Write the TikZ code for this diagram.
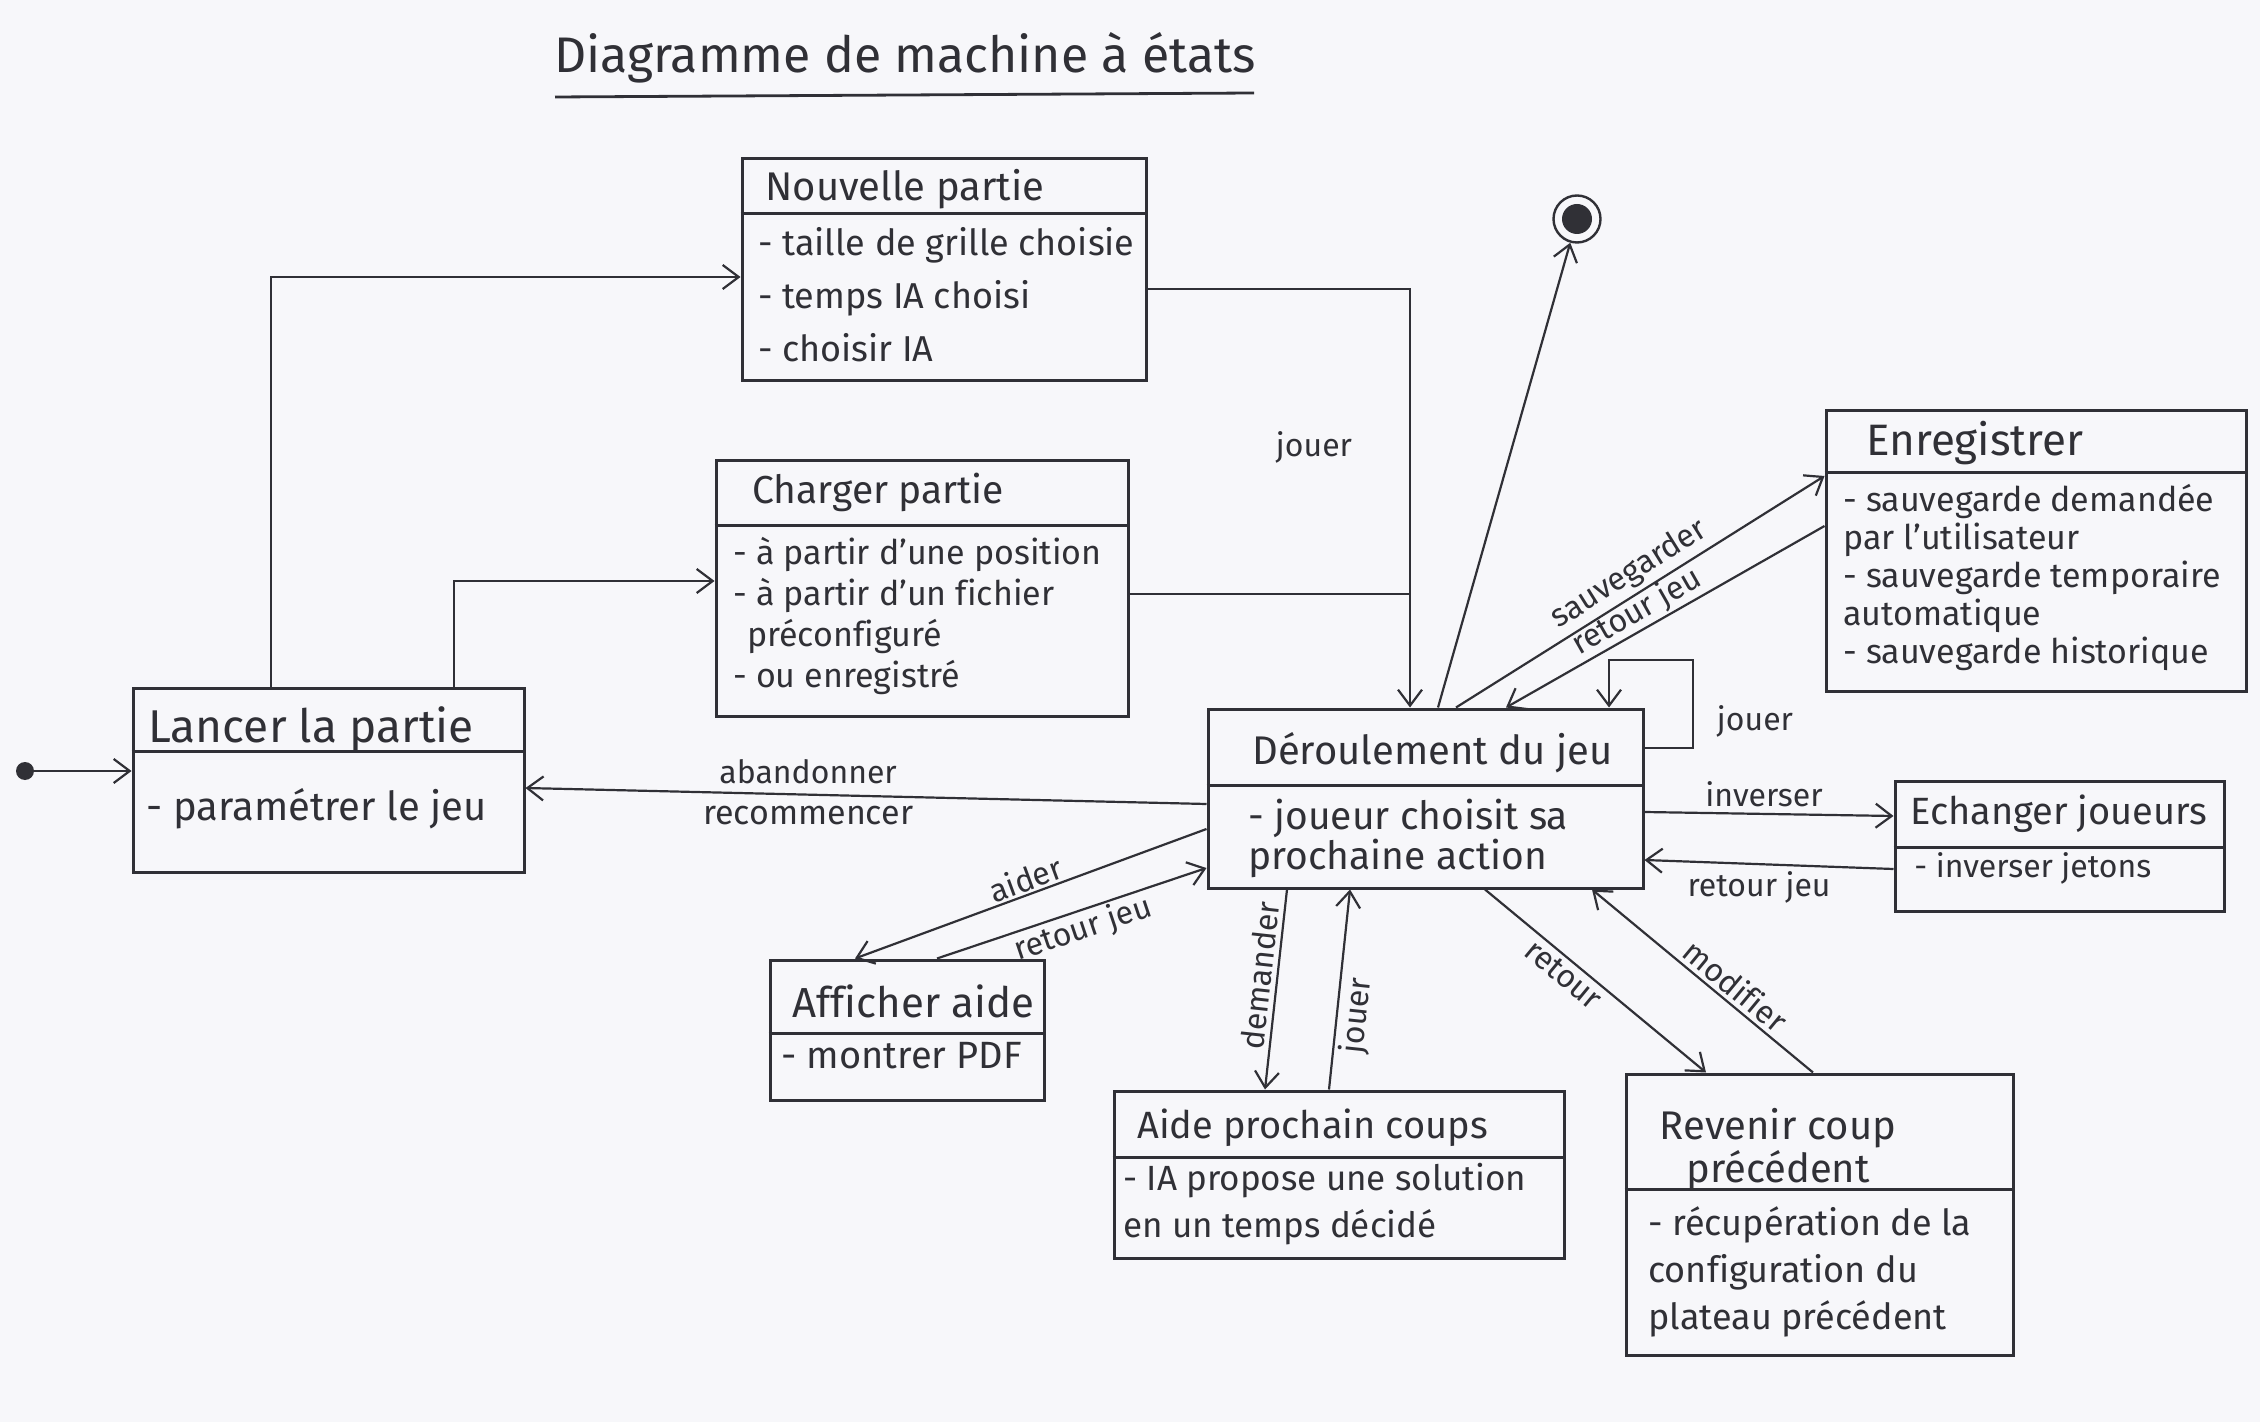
\documentclass[tikz,border=0pt]{standalone}
\usepackage{fontspec}
\setmainfont{Fira Sans}[Ligatures=NoCommon]
\usetikzlibrary{arrows.meta,fit}
\definecolor{ink}{RGB}{48,48,54}
\definecolor{paper}{RGB}{247,247,250}
\newcommand{\fs}[2]{\fontsize{#1}{#2}\selectfont}
\begin{document}
\begin{tikzpicture}[x=0.5pt,y=-0.5pt,
  stbox/.style={draw=ink, line width=1.5pt, inner sep=0pt},
  divline/.style={draw=ink, line width=1.5pt},
  conn/.style={draw=ink, line width=1.1pt},
  arr/.style={conn, -{Straight Barb[length=8pt,width=12pt,line width=1.1pt]}},
  head/.style={font=\fs{19}{23}, text=ink, inner sep=0pt, anchor=base west},
  body/.style={font=\fs{16}{20}, text=ink, inner sep=0pt, anchor=north west, align=left},
  lbl/.style={font=\fs{16}{19}, text=ink, inner sep=3pt},
]
\useasboundingbox[fill=paper] (0,0) rectangle (2260,1422);

% title
\node[font=\fs{25}{30}, text=ink, inner sep=0pt] (title) at (905,58) {Diagramme de machine à états};
\draw[ink, line width=1.4pt] (555,97) -- (1254,93);

% states
\node[stbox, fit={(742,159) (1146,381)}] (nouv) {};
\draw[divline] (nouv.west |- 0,214) -- (nouv.east |- 0,214);
\node[head, font=\fs{20}{24}] (nouvh) at (765,201) {Nouvelle partie};
\node[body, font=\fs{18}{26.5}] (nouvb) at (758,227) {- taille de grille choisie\\- temps IA choisi\\- choisir IA};

\node[stbox, fit={(716,461) (1128,716)}] (charger) {};
\draw[divline] (charger.west |- 0,526) -- (charger.east |- 0,526);
\node[head, font=\fs{19.5}{23}] (chargerh) at (752,504) {Charger partie};
\node[body, font=\fs{17}{20.5}] (chargerb) at (733,537) {- à partir d’une position\\- à partir d’un fichier\\\hspace*{0.4em}préconfiguré\\- ou enregistré};

\node[stbox, fit={(133,689) (524,872)}] (lancer) {};
\draw[divline] (lancer.west |- 0,751) -- (lancer.east |- 0,751);
\node[head, font=\fs{23}{27}] (lancerh) at (148,742) {Lancer la partie};
\node[body, font=\fs{20}{24}] (lancerb) at (146,788) {- paramétrer le jeu};

\node[stbox, fit={(1208,709) (1643,888)}] (dero) {};
\draw[divline] (dero.west |- 0,785) -- (dero.east |- 0,785);
\node[head, font=\fs{20}{24}] (deroh) at (1252,764) {Déroulement du jeu};
\node[body, font=\fs{19.5}{20}] (derob) at (1248,799) {- joueur choisit sa\\prochaine action};

\node[stbox, fit={(1826,411) (2246,692)}] (enr) {};
\draw[divline] (enr.west |- 0,473) -- (enr.east |- 0,473);
\node[head, font=\fs{22}{26}] (enrh) at (1866,456) {Enregistrer};
\node[body, font=\fs{17}{19}] (enrb) at (1843,484) {- sauvegarde demandée\\par l’utilisateur\\- sauvegarde temporaire\\automatique\\- sauvegarde historique};

\node[stbox, fit={(1895,781) (2224,911)}] (ech) {};
\draw[divline] (ech.west |- 0,847) -- (ech.east |- 0,847);
\node[head] (echh) at (1910,824) {Echanger joueurs};
\node[body] (echb) at (1914,852) {- inverser jetons};

\node[stbox, fit={(770,960) (1044,1100)}] (aff) {};
\draw[divline] (aff.west |- 0,1033) -- (aff.east |- 0,1033);
\node[head, font=\fs{21}{25}] (affh) at (792,1017) {Afficher aide};
\node[body, font=\fs{19}{22}] (affb) at (781,1042) {- montrer PDF};

\node[stbox, fit={(1114,1091) (1564,1258)}] (aide) {};
\draw[divline] (aide.west |- 0,1157) -- (aide.east |- 0,1157);
\node[head] (aideh) at (1137,1138) {Aide prochain coups};
\node[body, font=\fs{17.5}{23.5}] (aideb) at (1123,1163) {- IA propose une solution\\en un temps décidé};

\node[stbox, fit={(1626,1074) (2013,1355)}] (rev) {};
\draw[divline] (rev.west |- 0,1189) -- (rev.east |- 0,1189);
\node[head, anchor=north, align=center, font=\fs{20}{19.5}] (revh) at (1778,1108) {Revenir coup\\précédent};
\node[body, font=\fs{18}{23.5}] (revb) at (1648,1206) {- récupération de la\\configuration du\\plateau précédent};

% initial and final states
\node[circle, fill=ink, minimum size=9pt, inner sep=0pt] (init) at (25,771) {};
\node[circle, draw=ink, line width=1.2pt, minimum size=23.5pt, inner sep=0pt,
  path picture={\fill[ink] (path picture bounding box.center) circle (7.5pt);}] (final) at (1577,219) {};

% connectors
\draw[arr] (init) -- (lancer.west |- init);
\draw[arr] (lancer.north -| 271,0) |- (nouv.west |- 0,277);
\draw[arr] (lancer.north -| 454,0) |- (charger.west |- 0,581);
\draw[arr] (nouv.east |- 0,289) -| (dero.north -| 1410,0);
\coordinate (join) at (1410,594);
\draw[conn] (charger.east |- 0,594) -- (join);
\node[lbl] (ljouer1) at (1314,447) {jouer};

\draw[arr] (dero.north -| 1438,0) -- (final);

\draw[arr] (dero.north -| 1456,0) -- (enr.west |- 0,476)
  node[lbl, pos=0.5, sloped, above, inner sep=2pt] (lsauv) {sauvegarder};
\draw[arr] (enr.west |- 0,526) -- (dero.north -| 1506,0)
  node[lbl, pos=0.56, sloped, above, inner sep=0.5pt] (lretenr) {retour jeu};

\draw[arr] (dero.east |- 0,748) -| (1693,660) -| (dero.north -| 1609,0);
\node[lbl] (ljouer2) at (1755,721) {jouer};

\draw[arr] (dero.west |- 0,804) -- (lancer.east |- 0,788)
  node[lbl, pos=0.585, above, inner sep=5pt] (laband) {abandonner}
  node[lbl, pos=0.585, below, inner sep=5pt, font=\fs{17}{19}] (lrecom) {recommencer};

\draw[arr] (dero.east |- 0,812) -- (ech.west |- 0,816)
  node[lbl, pos=0.48, above] (linv) {inverser};
\draw[arr] (ech.west |- 0,869) -- (dero.east |- 0,860)
  node[lbl, pos=0.54, below] (lretech) {retour jeu};

\draw[arr] (dero.west |- 0,829) -- (aff.north -| 855,0)
  node[lbl, pos=0.5, sloped, above, inner sep=1pt] (laider) {aider};
\draw[arr] (aff.north -| 937,0) -- (dero.west |- 0,868)
  node[lbl, pos=0.52, sloped, below, inner sep=1pt] (lretaff) {retour jeu};

\draw[arr] (dero.south -| 1287,0) -- (aide.north -| 1265,0)
  node[lbl, pos=0.44, sloped, above, inner sep=2pt] (ldem) {demander};
\draw[arr] (aide.north -| 1329,0) -- (dero.south -| 1350,0)
  node[lbl, pos=0.38, sloped, below, inner sep=2pt] (ljouer3) {jouer};

\draw[arr] (dero.south -| 1485,0) -- (rev.north -| 1706,0)
  node[lbl, pos=0.4, sloped, below, inner sep=2pt] (lret) {retour};
\draw[arr] (rev.north -| 1813,0) -- (dero.south -| 1592,0)
  node[lbl, pos=0.4, sloped, above, inner sep=2pt] (lmod) {modifier};
\end{tikzpicture}
\end{document}
